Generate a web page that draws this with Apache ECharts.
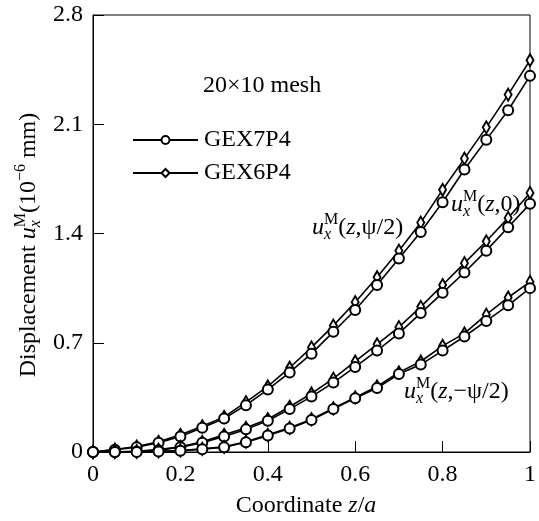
<!DOCTYPE html>
<html><head><meta charset="utf-8">
<script src="https://cdn.jsdelivr.net/npm/echarts@6/dist/echarts.min.js"></script>
<style>html,body{margin:0;padding:0;background:#fff}#c{width:539px;height:521px}</style>
</head><body><div id="c"></div>
<script>
const zValues = [0,0.05,0.1,0.15,0.2,0.25,0.3,0.35,0.4,0.45,0.5,0.55,0.6,0.65,0.7,0.75,0.8,0.85,0.9,0.95,1];
const xTicks = ['0','0.2','0.4','0.6','0.8','1'];
const yTicks = ['0','0.7','1.4','2.1','2.8'];
// u_x^M(z, psi/2)
const psiPos_GEX7P4 = [0,0.015,0.03,0.06,0.10,0.155,0.215,0.30,0.40,0.51,0.63,0.77,0.91,1.07,1.24,1.41,1.60,1.81,2.00,2.19,2.41];
const psiPos_GEX6P4 = [0,0.016,0.035,0.065,0.11,0.165,0.225,0.32,0.42,0.54,0.67,0.81,0.96,1.12,1.29,1.47,1.68,1.88,2.08,2.29,2.51];
// u_x^M(z, 0)
const zero_GEX7P4 = [0,0,0.004,0.012,0.03,0.06,0.10,0.145,0.20,0.275,0.355,0.445,0.545,0.65,0.76,0.89,1.02,1.15,1.29,1.44,1.59];
const zero_GEX6P4 = [0,0,0.005,0.015,0.033,0.065,0.11,0.155,0.21,0.29,0.375,0.47,0.58,0.69,0.80,0.93,1.07,1.21,1.35,1.50,1.66];
// u_x^M(z, -psi/2)
const psiNeg_GEX7P4 = [0,0,0,0.003,0.008,0.018,0.03,0.063,0.105,0.15,0.205,0.275,0.345,0.41,0.50,0.56,0.65,0.74,0.84,0.94,1.05];
const psiNeg_GEX6P4 = [0,0,0,0.004,0.01,0.02,0.033,0.066,0.11,0.155,0.21,0.28,0.35,0.42,0.51,0.58,0.68,0.76,0.88,0.99,1.09];

const FONT = '"Liberation Serif", "Times New Roman", serif';
const ctx = document.createElement('canvas').getContext('2d');
function tw(t, s, it){ ctx.font = (it?'italic ':'') + s + 'px ' + FONT; return ctx.measureText(t).width; }

function mathText(runs, x0, baseY, rotation, center){
  let x = 0, maxStackW = 0; const items = [];
  runs.forEach(r => {
    const w = tw(r.t, r.s, r.it);
    items.push({x: x, r: r});
    if (r.stack){ maxStackW = Math.max(maxStackW, w); }
    else { x += Math.max(w, maxStackW); maxStackW = 0; }
  });
  const off = center ? -x/2 : 0;
  const children = items.map(it => ({
    type: 'text',
    x: it.x + off,
    y: -(it.r.b || 0) - 0.3*it.r.s,
    style: {
      text: it.r.t, fill: '#000',
      font: (it.r.it ? 'italic ' : '') + it.r.s + 'px ' + FONT,
      verticalAlign: 'middle', align: 'left'
    }
  }));
  return {type: 'group', x: x0, y: baseY, rotation: rotation || 0, children: children, silent: true};
}

const B = 24, S = 16;
function uxm(rest){
  return [
    {t:'u', s:B, it:true},
    {t:'x', s:S, it:true, b:-5, stack:true},
    {t:'M', s:S, b:10}
  ].concat(rest);
}

const chart = echarts.init(document.getElementById('c'));

function mk(name, data, sym, size){
  return {
    name: name, type: 'line',
    data: zValues.map((z,i)=>[z, data[i]]),
    symbol: sym, symbolSize: size, showSymbol: true,
    lineStyle: {color:'#000', width:1.6},
    itemStyle: {color:'#000', borderColor:'#000', borderWidth:1.3},
    z: 3, animation: false
  };
}

const option = {
  animation: false,
  backgroundColor: '#fff',
  grid: {left: 93, right: 9, top: 15, bottom: 69, show: true, borderColor: '#000', borderWidth: 1},
  xAxis: {
    type: 'value', min: 0, max: 1, interval: 0.2,
    axisLine: {lineStyle: {color:'#000', width:1}},
    axisTick: {inside: true, length: 11, lineStyle:{color:'#000'}},
    splitLine: {show: false},
    axisLabel: {color:'#000', fontFamily: FONT, fontSize: 24, margin: 11,
      formatter: v => xTicks[Math.round(v/0.2)]}
  },
  yAxis: {
    type: 'value', min: 0, max: 2.8, interval: 0.7,
    axisLine: {show: true, lineStyle: {color:'#000', width:1}},
    axisTick: {show: true, inside: true, length: 11, lineStyle:{color:'#000'}},
    splitLine: {show: false},
    axisLabel: {color:'#000', fontFamily: FONT, fontSize: 24, margin: 10,
      formatter: v => yTicks[Math.round(v/0.7)]}
  },
  legend: {
    orient: 'vertical', left: 127, top: 123, itemWidth: 65, itemHeight: 10, itemGap: 9,
    data: ['GEX7P4','GEX6P4'],
    textStyle: {color:'#000', fontFamily: FONT, fontSize: 24, lineHeight: 10, padding:[0,0,0,1]},
    selectedMode: false
  },
  series: [
    mk('GEX6P4', psiPos_GEX6P4, 'emptyDiamond', [7,12]),
    mk('GEX7P4', psiPos_GEX7P4, 'emptyCircle', 10),
    mk('GEX6P4', zero_GEX6P4, 'emptyDiamond', [7,12]),
    mk('GEX7P4', zero_GEX7P4, 'emptyCircle', 10),
    mk('GEX6P4', psiNeg_GEX6P4, 'emptyDiamond', [7,12]),
    mk('GEX7P4', psiNeg_GEX7P4, 'emptyCircle', 10)
  ],
  graphic: [
    mathText([{t:'Coordinate ', s:B}, {t:'z', s:B, it:true}, {t:'/', s:B}, {t:'a', s:B, it:true}], 306, 513, 0, true),
    mathText([{t:'Displacement ', s:B}].concat(uxm([{t:'(10', s:B}, {t:'\u22126', s:S, b:10}, {t:' mm)', s:B}])), 36, 245, Math.PI/2, true),
    mathText([{t:'20\u00d710 mesh', s:B}], 203, 93, 0, false),
    mathText(uxm([{t:'(', s:B}, {t:'z', s:B, it:true}, {t:',\u03c8/2)', s:B}]), 312, 235, 0, false),
    mathText(uxm([{t:'(', s:B}, {t:'z', s:B, it:true}, {t:',0)', s:B}]), 451, 212, 0, false),
    mathText(uxm([{t:'(', s:B}, {t:'z', s:B, it:true}, {t:',\u2212\u03c8/2)', s:B}]), 404, 399, 0, false)
  ]
};
chart.setOption(option);
</script></body></html>
